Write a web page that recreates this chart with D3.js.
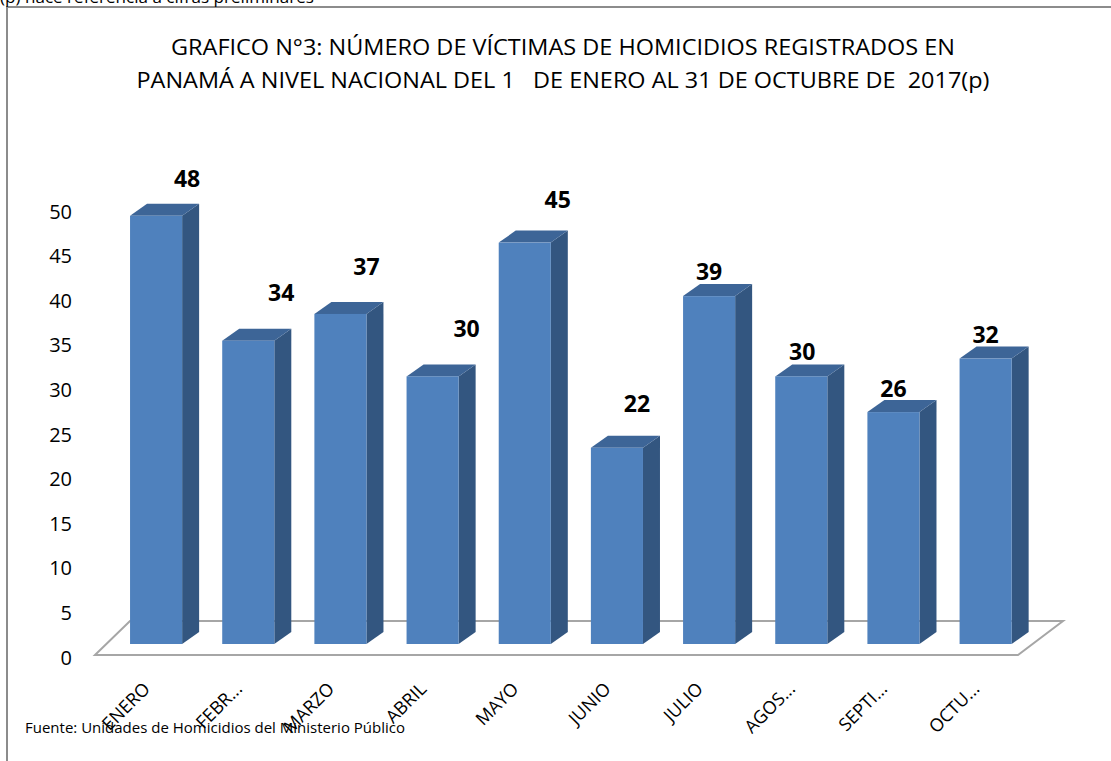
<!DOCTYPE html>
<html>
<head>
<meta charset="utf-8">
<script src="https://cdn.jsdelivr.net/npm/d3@7"></script>
<style>
    body { margin: 0; background: #fff; }
    svg { display: block; font-family: "Open Sans", "Noto Sans", sans-serif; }
    .title { white-space: pre; }
</style>
</head>
<body>
<svg id="chart" width="1111" height="761"></svg>
<script>
/* global d3 */

// Data
// --------------------
var months = ["ENERO", "FEBR...", "MARZO", "ABRIL", "MAYO", "JUNIO", "JULIO", "AGOS...", "SEPTI...", "OCTU..."];
var victims = [48, 34, 37, 30, 45, 22, 39, 30, 26, 32];
var yTicks = [0, 5, 10, 15, 20, 25, 30, 35, 40, 45, 50];
var titleLines = [
    "GRAFICO N°3: NÚMERO DE VÍCTIMAS DE HOMICIDIOS REGISTRADOS EN",
    "PANAMÁ A NIVEL NACIONAL DEL 1   DE ENERO AL 31 DE OCTUBRE DE  2017(p)"
];
var noteText = "(p) hace referencia a cifras preliminares";
var sourceText = "Fuente: Unidades de Homicidios del Ministerio Público";

// Layout: hand-moved data labels (dx from bar centre, dy from bar top)
var labelNudge = [[31, -29], [33, -40], [26, -39], [34, -39], [33, -35], [20, -36], [0, -16], [1, -16], [0, -15], [0, -16]];

var svg = d3.select("#chart");

// Dimension
var depth = { x: 17, y: -12 };      // bar depth
var floorDepth = { x: 35, y: -34 }; // floor depth (left side)

var x = d3.scaleBand()
    .domain(months)
    .range([110, 1031.7])
    .paddingInner(0.435)
    .paddingOuter(0.2175);

var y = d3.scaleLinear()
    .domain([0, 50])
    .range([655, 209]);

// Frame
// --------------------
svg.append("path")
    .attr("d", "M7,770 V7 H1120")
    .style("fill", "none")
    .style("stroke", "#8c8c8c")
    .style("stroke-width", 2);

// note, partly cut by the page edge as in the original
svg.append("text")
    .text(noteText)
    .attr("x", 0)
    .attr("y", 3)
    .attr("font-size", 16)
    .attr("textLength", 314)
    .attr("lengthAdjust", "spacingAndGlyphs")
    .style("fill", "#000");

// Title
// --------------------
svg.selectAll(".title")
    .data(titleLines)
    .enter().append("text")
    .attr("class", "title")
    .text(d => d)
    .attr("x", 563)
    .attr("y", (d, i) => 55 + i * 33)
    .attr("font-size", 21)
    .attr("text-anchor", "middle")
    .attr("textLength", (d, i) => i === 0 ? 784 : 853)
    .attr("lengthAdjust", "spacingAndGlyphs")
    .style("fill", "#000");

// Floor
// --------------------
var x0 = 95, x1 = 1018, yb = y(0);
svg.append("path")
    .attr("d", `M${x0},${yb} L${x0 + floorDepth.x},${yb + floorDepth.y} L${x1 + 45},${yb + floorDepth.y} L${x1},${yb} Z`)
    .style("fill", "#fff")
    .style("stroke", "#a6a6a6")
    .style("stroke-width", 2);

// Y axis labels
svg.append("g")
    .attr("id", "yLabels")
    .selectAll("text")
    .data(yTicks)
    .enter().append("text")
    .text(d => d)
    .attr("x", 72)
    .attr("y", d => y(d) + 2)
    .attr("font-size", 20)
    .attr("text-anchor", "end")
    .attr("dominant-baseline", "central")
    .style("fill", "#000");

// Bars
// --------------------
var bars = svg.append("g")
    .attr("id", "bars")
    .selectAll(".bar")
    .data(victims.map((v, i) => ({ month: months[i], value: v, i: i })))
    .enter().append("g")
    .attr("class", "bar");

var shift = -11; // bars stand inside the floor
function barTop(d) { return y(d.value) + shift; }
var base = y(0) + shift;

// side face
bars.append("path")
    .attr("d", d => {
        var l = x(d.month) + x.bandwidth(), t = barTop(d);
        return `M${l},${t} L${l + depth.x},${t + depth.y} L${l + depth.x},${base + depth.y} L${l},${base} Z`;
    })
    .style("fill", "#335680");

// top face
bars.append("path")
    .attr("d", d => {
        var l = x(d.month), r = l + x.bandwidth(), t = barTop(d);
        return `M${l},${t} L${l + depth.x},${t + depth.y} L${r + depth.x},${t + depth.y} L${r},${t} Z`;
    })
    .style("fill", "#3d6597");

// front face
bars.append("rect")
    .attr("x", d => x(d.month))
    .attr("y", d => barTop(d))
    .attr("width", x.bandwidth())
    .attr("height", d => base - barTop(d))
    .style("fill", "#4f81bd");

// Value labels
bars.append("text")
    .text(d => d.value)
    .attr("x", d => x(d.month) + x.bandwidth() / 2 + labelNudge[d.i][0])
    .attr("y", d => barTop(d) + labelNudge[d.i][1])
    .attr("font-size", 23)
    .attr("font-weight", "bold")
    .attr("text-anchor", "middle")
    .style("fill", "#000");

// Category labels
// --------------------
svg.append("g")
    .attr("id", "xLabels")
    .selectAll("text")
    .data(months)
    .enter().append("text")
    .text(d => d)
    .attr("transform", d => `translate(${x(d) + x.bandwidth() / 2 - 5}, 690) rotate(-45)`)
    .attr("font-size", 18)
    .attr("text-anchor", "end")
    .style("fill", "#000");

// Source
svg.append("text")
    .text(sourceText)
    .attr("x", 25)
    .attr("y", 733)
    .attr("font-size", 15)
    .attr("textLength", 380)
    .attr("lengthAdjust", "spacingAndGlyphs")
    .style("fill", "#000");
</script>
</body>
</html>
